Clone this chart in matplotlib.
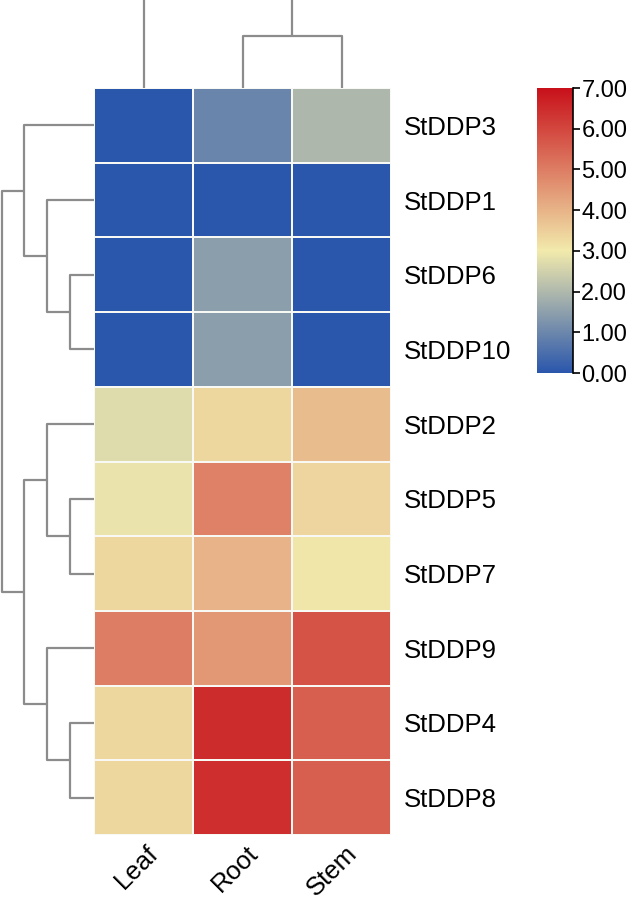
import numpy as np
import matplotlib
matplotlib.use("Agg")
import matplotlib.pyplot as plt
from matplotlib.colors import LinearSegmentedColormap, Normalize
from matplotlib.transforms import ScaledTranslation

plt.rcParams['font.family'] = ['Liberation Sans', 'DejaVu Sans']

# heatmap data, rows in display order
genes = ["StDDP3", "StDDP1", "StDDP6", "StDDP10", "StDDP2",
         "StDDP5", "StDDP7", "StDDP9", "StDDP4", "StDDP8"]
tissues = ["Leaf", "Root", "Stem"]
leaf = [0.0, 0.0, 0.0, 0.0, 2.70, 2.88, 3.37, 5.00, 3.37, 3.37]
root = [0.97, 0.0, 1.45, 1.45, 3.35, 4.93, 4.00, 4.50, 6.48, 6.45]
stem = [1.98, 0.0, 0.0, 0.0, 3.83, 3.40, 3.07, 5.78, 5.54, 5.54]

# row tree: (child a, child b, height); clusters numbered from 10 on
row_links = [(2, 3, 1.0), (1, 10, 2.0), (0, 11, 3.0),
             (5, 6, 1.0), (4, 13, 2.0),
             (8, 9, 1.0), (7, 15, 2.0),
             (14, 16, 3.0), (12, 17, 3.9)]
# column tree: Root+Stem, then Leaf joins far above
col_links = [(1, 2, 1.0), (0, 3, 2.0)]

cbar_ticks = [0, 1, 2, 3, 4, 5, 6, 7]


def dendro_segments(links, n):
    """Return list of (pos_a, pos_b, h_a, h_b, h) for each merge."""
    pos = {i: i + 0.5 for i in range(n)}
    hgt = {i: 0.0 for i in range(n)}
    segs = []
    for k, (a, b, h) in enumerate(links):
        segs.append((pos[a], pos[b], hgt[a], hgt[b], h))
        pos[n + k] = (pos[a] + pos[b]) / 2
        hgt[n + k] = h
    return segs


W, H = 633, 902
fig = plt.figure(figsize=(W / 100, H / 100), dpi=100)
fig.patch.set_facecolor("white")

cmap = LinearSegmentedColormap.from_list(
    "byr", [(0.0, "#2a56ac"), (3 / 7, "#f2eaac"), (1.0, "#c8101a")], N=512)
norm = Normalize(0, 7)

hx0, hx1 = 94, 391
hy0, hy1 = 88, 835
ax = fig.add_axes([hx0 / W, 1 - hy1 / H, (hx1 - hx0) / W, (hy1 - hy0) / H])
data = np.array([leaf, root, stem]).T
ax.pcolormesh(data, cmap=cmap, norm=norm, edgecolors="#f8f8f4", linewidth=1.3)
ax.set_xlim(0, len(tissues))
ax.set_ylim(len(genes), 0)
for s in ax.spines.values():
    s.set_visible(False)
ax.yaxis.tick_right()
ax.set_yticks(np.arange(len(genes)) + 0.5)
ax.set_yticklabels(genes, fontsize=18.5)
ax.set_xticks(np.arange(len(tissues)) + 0.5)
ax.set_xticklabels(tissues, fontsize=18.5, rotation=45, ha="right",
                   rotation_mode="anchor")
ax.tick_params(length=0, pad=9, axis="y")
ax.tick_params(length=0, pad=4, axis="x")
off = ScaledTranslation(0.03, 0, fig.dpi_scale_trans)
for lab in ax.get_xticklabels():
    lab.set_transform(lab.get_transform() + off)

line_kw = dict(color="#8c8c8c", lw=1.6, solid_capstyle="butt")

# left dendrogram
axl = fig.add_axes([0, 1 - hy1 / H, hx0 / W, (hy1 - hy0) / H])
for pa, pb, ha_, hb, h in dendro_segments(row_links, len(genes)):
    axl.plot([ha_, h, h, hb], [pa, pa, pb, pb], **line_kw)
axl.set_ylim(len(genes), 0)
axl.set_xlim(4.0, 0)
axl.axis("off")

# top dendrogram
axt = fig.add_axes([hx0 / W, 1 - hy0 / H, (hx1 - hx0) / W, hy0 / H])
for pa, pb, ha_, hb, h in dendro_segments(col_links, len(tissues)):
    axt.plot([pa, pa, pb, pb], [ha_, h, h, hb], **line_kw)
axt.set_xlim(0, len(tissues))
axt.set_ylim(0, 88 / 52)
axt.axis("off")

# colorbar
cax = fig.add_axes([537 / W, 1 - 373 / H, 36 / W, 285 / H])
sm = plt.cm.ScalarMappable(norm=norm, cmap=cmap)
cb = fig.colorbar(sm, cax=cax, ticks=cbar_ticks)
cb.outline.set_visible(False)
cax.spines["right"].set_visible(True)
cax.spines["right"].set_linewidth(1.2)
cb.ax.set_yticklabels(["%.2f" % t for t in cbar_ticks])
cax.tick_params(labelsize=17, length=5, width=1.2, pad=1)

fig.savefig("out.png", dpi=100, facecolor="white")
